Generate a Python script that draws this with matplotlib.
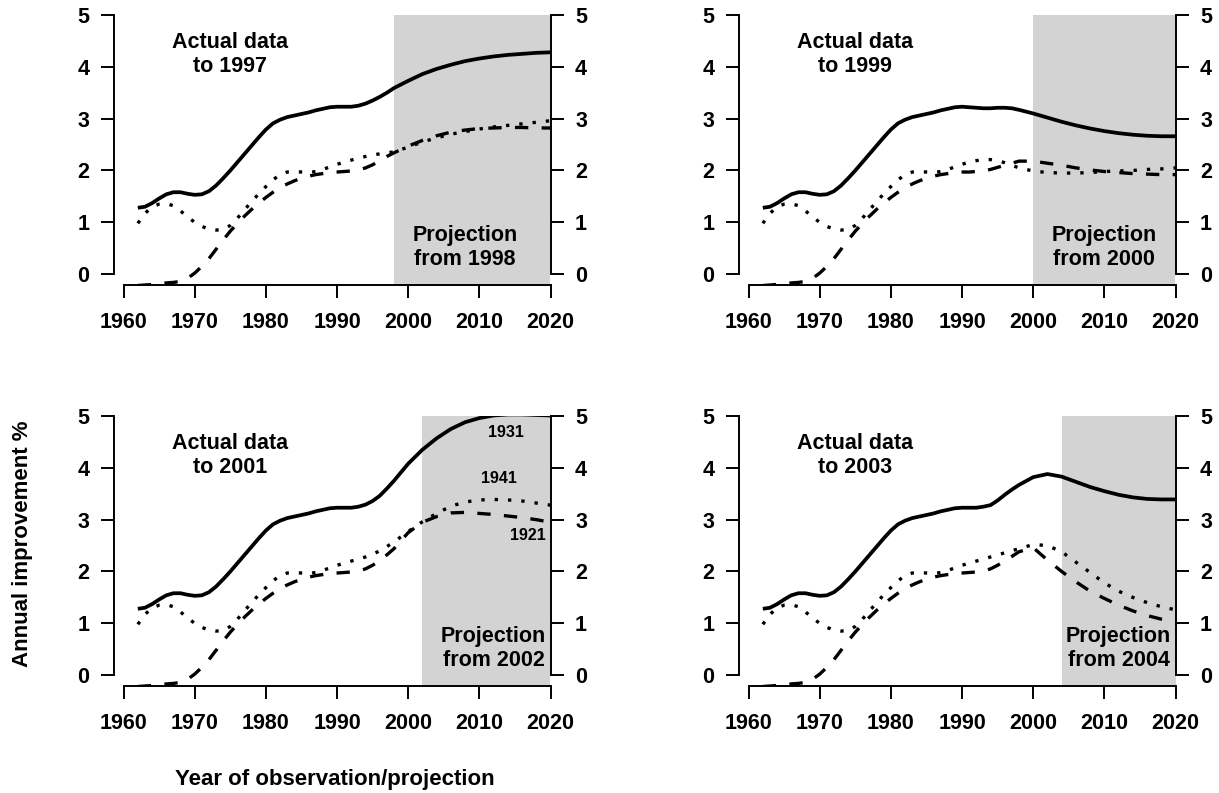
import matplotlib
matplotlib.use("Agg")
import matplotlib.pyplot as plt
import numpy as np

plt.rcParams["font.family"] = ["Liberation Sans", "DejaVu Sans"]
plt.rcParams["font.weight"] = "bold"

# shared observed history (all four panels)
hist_years = list(range(1962, 1991))
hist_1931 = [1.28, 1.30, 1.37, 1.46, 1.54, 1.58, 1.58, 1.55, 1.53, 1.54,
             1.60, 1.71, 1.85, 2.00, 2.16, 2.32, 2.48, 2.64, 2.79, 2.91,
             2.98, 3.03, 3.06, 3.09, 3.12, 3.16, 3.19, 3.22, 3.23]
hist_1941 = [0.98, 1.17, 1.30, 1.35, 1.36, 1.32, 1.22, 1.10, 1.00, 0.92,
             0.87, 0.85, 0.86, 0.94, 1.08, 1.24, 1.40, 1.55, 1.69, 1.82,
             1.92, 1.97, 1.98, 1.97, 1.96, 1.98, 2.02, 2.07, 2.12]
hist_1921 = [-0.22, -0.21, -0.20, -0.19, -0.17, -0.16, -0.14, -0.08, 0.02, 0.15,
             0.30, 0.48, 0.66, 0.83, 0.98, 1.12, 1.25, 1.37, 1.48, 1.58,
             1.67, 1.74, 1.80, 1.85, 1.89, 1.92, 1.94, 1.96, 1.97]

# later years, differing by the last year of actual data
tail_years = [1991, 1992, 1993, 1994, 1995, 1996, 1997, 1998, 2000, 2002,
              2004, 2006, 2008, 2010, 2012, 2014, 2016, 2018, 2020]

to1997_1931 = [3.23, 3.23, 3.25, 3.29, 3.35, 3.42, 3.50, 3.59, 3.73, 3.86,
               3.96, 4.04, 4.11, 4.16, 4.20, 4.23, 4.25, 4.27, 4.28]
to1997_1941 = [2.16, 2.20, 2.24, 2.27, 2.30, 2.32, 2.34, 2.36, 2.45, 2.55,
               2.63, 2.70, 2.75, 2.80, 2.84, 2.87, 2.90, 2.93, 2.96]
to1997_1921 = [1.98, 1.99, 2.01, 2.05, 2.11, 2.19, 2.27, 2.34, 2.47, 2.58,
               2.67, 2.74, 2.78, 2.81, 2.82, 2.83, 2.83, 2.82, 2.82]

to1999_1931 = [3.22, 3.21, 3.20, 3.20, 3.21, 3.21, 3.20, 3.17, 3.10, 3.02,
               2.94, 2.87, 2.81, 2.76, 2.72, 2.69, 2.67, 2.66, 2.66]
to1999_1941 = [2.16, 2.19, 2.21, 2.21, 2.19, 2.15, 2.10, 2.05, 1.99, 1.96,
               1.95, 1.95, 1.96, 1.98, 1.99, 2.00, 2.02, 2.03, 2.05]
to1999_1921 = [1.97, 1.98, 1.99, 2.02, 2.06, 2.10, 2.14, 2.18, 2.18, 2.14,
               2.10, 2.05, 2.01, 1.98, 1.96, 1.94, 1.93, 1.92, 1.92]

to2001_1931 = [3.23, 3.23, 3.25, 3.29, 3.36, 3.46, 3.60, 3.75, 4.08, 4.35,
               4.57, 4.75, 4.88, 4.96, 5.01, 5.03, 5.03, 5.02, 5.01]
to2001_1941 = [2.16, 2.20, 2.24, 2.28, 2.33, 2.40, 2.48, 2.57, 2.77, 2.96,
               3.12, 3.26, 3.34, 3.38, 3.39, 3.38, 3.36, 3.32, 3.28]
to2001_1921 = [1.98, 1.99, 2.01, 2.05, 2.12, 2.21, 2.32, 2.44, 2.75, 2.95,
               3.06, 3.13, 3.14, 3.12, 3.10, 3.07, 3.04, 3.00, 2.95]

to2003_1931 = [3.23, 3.23, 3.25, 3.28, 3.37, 3.48, 3.58, 3.67, 3.82, 3.88,
               3.83, 3.73, 3.63, 3.55, 3.48, 3.43, 3.40, 3.39, 3.39]
to2003_1941 = [2.16, 2.20, 2.24, 2.28, 2.32, 2.36, 2.40, 2.44, 2.52, 2.50,
               2.38, 2.18, 1.98, 1.78, 1.62, 1.50, 1.40, 1.32, 1.26]
to2003_1921 = [1.98, 1.99, 2.01, 2.05, 2.12, 2.20, 2.29, 2.38, 2.46, 2.22,
               2.00, 1.80, 1.62, 1.48, 1.35, 1.24, 1.15, 1.08, 1.03]

last_actual = [1997, 1999, 2001, 2003]
proj_label_x = [2008, 2010, 2012, 2012]


def main() -> None:
    fig = plt.figure(figsize=(12.19, 7.93), dpi=100)
    W, H = 1219, 793
    boxes = [(114, 15), (739, 15), (114, 416), (739, 416)]  # left px, top px
    pw, ph = 436.5, 270

    series = [
        (to1997_1931, to1997_1941, to1997_1921),
        (to1999_1931, to1999_1941, to1999_1921),
        (to2001_1931, to2001_1941, to2001_1921),
        (to2003_1931, to2003_1941, to2003_1921),
    ]
    years = np.array(hist_years + tail_years)

    for k, ((lx, ty), (s31, s41, s21)) in enumerate(zip(boxes, series)):
        ax = fig.add_axes([lx / W, 1 - (ty + ph) / H, pw / W, ph / H])
        ax.set_xlim(1958.65, 2020)
        ax.set_ylim(-0.21, 5)
        ax.axvspan(last_actual[k] + 1, 2020, color="#d3d3d3", lw=0, zorder=0)

        ax.plot(years, hist_1931 + s31, color="black", lw=2.7,
                solid_capstyle="butt", zorder=3)
        ax.plot(years, hist_1941 + s41, color="black", lw=2.4,
                dashes=(1, 3), dash_capstyle="butt", zorder=3)
        ax.plot(years, hist_1921 + s21, color="black", lw=2.4,
                dashes=(4, 4), dash_capstyle="butt", zorder=3)

        ax.spines["top"].set_visible(False)
        ax.spines["left"].set_bounds(0, 5)
        ax.spines["right"].set_bounds(0, 5)
        ax.spines["bottom"].set_bounds(1960, 2020)
        for sp in ax.spines.values():
            sp.set_linewidth(1.4)

        ax.set_xticks(np.arange(1960, 2021, 10))
        ax.set_yticks(np.arange(0, 6, 1))
        ax.tick_params(axis="both", direction="out", length=9.7, width=1.4,
                       labelsize=15.5)
        ax.tick_params(axis="x", pad=10)
        ax.tick_params(axis="y", pad=8, right=True, labelright=True)
        for lab in ax.get_xticklabels() + ax.get_yticklabels():
            lab.set_fontweight("bold")

        ax.text(1975, 4.24, f"Actual data\nto {last_actual[k]}", ha="center",
                va="center", fontsize=15.5, fontweight="bold")
        ax.text(proj_label_x[k], 0.52, f"Projection\nfrom {last_actual[k] + 1}",
                ha="center", va="center", fontsize=15.5, fontweight="bold")

        if k == 2:
            ax.text(2013.8, 4.69, "1931", ha="center", va="center", fontsize=11.5,
                    fontweight="bold")
            ax.text(2012.7, 3.79, "1941", ha="center", va="center", fontsize=11.5,
                    fontweight="bold")
            ax.text(2016.8, 2.69, "1921", ha="center", va="center", fontsize=11.5,
                    fontweight="bold")

    fig.text(23 / W, 1 - 544 / H, "Annual improvement %", rotation=90,
             ha="center", va="center", fontsize=16, fontweight="bold")
    fig.text(335 / W, 1 - 780 / H, "Year of observation/projection",
             ha="center", va="center", fontsize=16, fontweight="bold")

    fig.savefig("out.png", dpi=100)
    plt.close(fig)


if __name__ == "__main__":
    main()
